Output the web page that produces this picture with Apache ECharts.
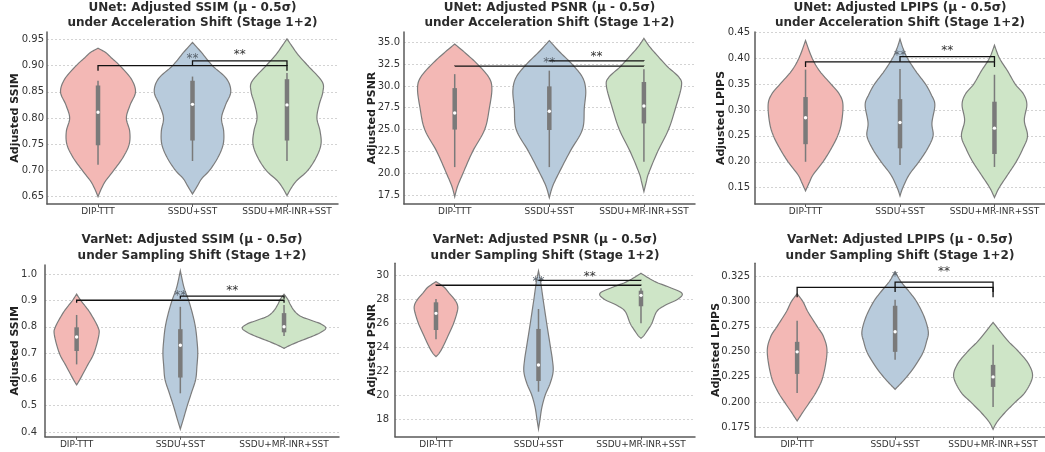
<!DOCTYPE html>
<html><head><meta charset="utf-8">
<script src="https://cdn.jsdelivr.net/npm/echarts@6/dist/echarts.min.js"></script>
<style>html,body{margin:0;padding:0;background:#fff}#c{width:1045px;height:452px}</style>
</head><body><div id="c"></div><script>
const CATEGORIES = ['DIP-TTT', 'SSDU+SST', 'SSDU+MR-INR+SST'];

// ---- Panel 1: UNet SSIM ----
const UNET_SSIM_TICKS = [0.65, 0.70, 0.75, 0.80, 0.85, 0.90, 0.95];
const UNET_SSIM_DIP = [[0.65,0],[0.665,0.035],[0.68,0.08],[0.70,0.166],[0.725,0.265],[0.75,0.33],[0.775,0.335],[0.80,0.30],[0.825,0.34],[0.85,0.397],[0.875,0.35],[0.90,0.23],[0.915,0.14],[0.925,0.08],[0.933,0]];
const UNET_SSIM_SSDU = [[0.655,0],[0.67,0.05],[0.685,0.1],[0.70,0.18],[0.725,0.27],[0.75,0.325],[0.775,0.33],[0.80,0.307],[0.825,0.35],[0.85,0.405],[0.875,0.36],[0.90,0.21],[0.925,0.095],[0.944,0]];
const UNET_SSIM_MRINR = [[0.652,0],[0.665,0.04],[0.68,0.1],[0.70,0.22],[0.725,0.31],[0.75,0.36],[0.775,0.35],[0.80,0.317],[0.825,0.34],[0.85,0.38],[0.87,0.37],[0.90,0.22],[0.92,0.12],[0.935,0.06],[0.951,0]];
const UNET_SSIM_BOXES = [[0.711,0.748,0.811,0.862,0.871],[0.718,0.757,0.826,0.871,0.879],[0.718,0.757,0.825,0.874,0.886]];
const UNET_SSIM_BRACKETS = [[0,2,0.900,0.01,'**',0.920],[1,2,0.909,0.01,'**',0.928]];

// ---- Panel 2: UNet PSNR ----
const UNET_PSNR_TICKS = [17.5, 20.0, 22.5, 25.0, 27.5, 30.0, 32.5, 35.0];
const UNET_PSNR_DIP = [[17.3,0],[18.5,0.03],[20,0.088],[22.5,0.19],[25,0.317],[27.5,0.367],[29.7,0.393],[31,0.36],[32.5,0.24],[33.75,0.115],[34.8,0]];
const UNET_PSNR_SSDU = [[17.2,0],[18.5,0.035],[20,0.1],[22.5,0.22],[25,0.35],[27.5,0.37],[29.5,0.385],[31,0.35],[32.5,0.24],[34,0.1],[35.2,0]];
const UNET_PSNR_MRINR = [[17.9,0],[19,0.025],[20,0.05],[22.5,0.146],[25,0.26],[27.5,0.335],[30,0.397],[31,0.37],[32.2,0.25],[33.5,0.14],[34.5,0.06],[35.45,0]];
const UNET_PSNR_BOXES = [[20.7,25.0,26.9,29.75,31.35],[20.7,24.95,27.1,29.95,31.75],[21.3,25.7,27.7,30.45,31.9]];
const UNET_PSNR_BRACKETS = [[0,2,32.28,0.01,'**',33.05],[1,2,32.86,0.01,'**',33.74]];

// ---- Panel 3: UNet LPIPS ----
const UNET_LPIPS_TICKS = [0.15, 0.20, 0.25, 0.30, 0.35, 0.40, 0.45];
const UNET_LPIPS_DIP = [[0.144,0],[0.16,0.04],[0.175,0.08],[0.20,0.185],[0.225,0.27],[0.25,0.34],[0.275,0.38],[0.31,0.396],[0.33,0.36],[0.35,0.27],[0.375,0.15],[0.40,0.07],[0.434,0]];
const UNET_LPIPS_SSDU = [[0.134,0],[0.15,0.03],[0.175,0.097],[0.20,0.2],[0.225,0.29],[0.25,0.35],[0.275,0.338],[0.31,0.369],[0.33,0.33],[0.35,0.27],[0.375,0.167],[0.40,0.079],[0.42,0.03],[0.437,0]];
const UNET_LPIPS_MRINR = [[0.131,0],[0.15,0.05],[0.175,0.14],[0.20,0.23],[0.225,0.3],[0.25,0.35],[0.28,0.316],[0.31,0.343],[0.33,0.31],[0.35,0.22],[0.375,0.14],[0.40,0.053],[0.425,0]];
const UNET_LPIPS_BOXES = [[0.200,0.234,0.285,0.325,0.378],[0.194,0.226,0.276,0.321,0.379],[0.190,0.215,0.265,0.316,0.368]];
const UNET_LPIPS_BRACKETS = [[0,2,0.393,0.01,'**',0.4126],[1,2,0.403,0.01,'**',0.4222]];

// ---- Panel 4: VarNet SSIM ----
const VARNET_SSIM_TICKS = [0.4, 0.5, 0.6, 0.7, 0.8, 0.9, 1.0];
const VARNET_SSIM_DIP = [[0.579,0],[0.60,0.032],[0.65,0.1],[0.70,0.167],[0.77,0.215],[0.80,0.204],[0.85,0.135],[0.88,0.08],[0.90,0.04],[0.924,0]];
const VARNET_SSIM_SSDU = [[0.411,0],[0.45,0.03],[0.50,0.067],[0.55,0.108],[0.60,0.148],[0.65,0.16],[0.70,0.168],[0.75,0.16],[0.80,0.145],[0.85,0.117],[0.90,0.08],[0.95,0.035],[1.013,0]];
const VARNET_SSIM_MRINR = [[0.718,0],[0.73,0.06],[0.745,0.15],[0.765,0.28],[0.78,0.36],[0.795,0.403],[0.81,0.36],[0.825,0.26],[0.84,0.16],[0.86,0.1],[0.885,0.06],[0.905,0.035],[0.924,0]];
const VARNET_SSIM_BOXES = [[0.657,0.708,0.761,0.798,0.845],[0.547,0.607,0.730,0.791,0.876],[0.765,0.779,0.800,0.852,0.883]];
const VARNET_SSIM_BRACKETS = [[0,2,0.901,0.01,'**',0.934],[1,2,0.917,0.01,'**',0.953]];

// ---- Panel 5: VarNet PSNR ----
const VARNET_PSNR_TICKS = [18, 20, 22, 24, 26, 28, 30];
const VARNET_PSNR_DIP = [[23.22,0],[23.5,0.03],[24,0.065],[25,0.12],[26,0.172],[27,0.208],[27.5,0.21],[28,0.18],[28.5,0.13],[29,0.08],[29.47,0]];
const VARNET_PSNR_SSDU = [[17.2,0],[18,0.015],[19,0.033],[20,0.065],[21,0.114],[22,0.143],[23,0.135],[24,0.117],[26,0.08],[28,0.045],[29.5,0.02],[30.36,0]];
const VARNET_PSNR_MRINR = [[24.75,0],[25,0.03],[25.5,0.07],[26,0.106],[27,0.155],[27.5,0.236],[28,0.358],[28.5,0.40],[29,0.276],[29.5,0.13],[30.17,0]];
const VARNET_PSNR_BOXES = [[24.67,25.44,26.83,27.75,28.03],[20.3,21.19,22.53,25.53,27.19],[26.0,27.42,28.33,28.72,28.92]];
const VARNET_PSNR_BRACKETS = [[0,2,29.17,0.01,'**',29.75],[1,2,29.58,0.01,'**',30.17]];

// ---- Panel 6: VarNet LPIPS ----
const VARNET_LPIPS_TICKS = [0.175, 0.200, 0.225, 0.250, 0.275, 0.300, 0.325];
const VARNET_LPIPS_DIP = [[0.181,0],[0.19,0.06],[0.20,0.13],[0.21,0.195],[0.225,0.263],[0.25,0.305],[0.265,0.27],[0.275,0.207],[0.29,0.11],[0.30,0.06],[0.308,0]];
const VARNET_LPIPS_SSDU = [[0.2126,0],[0.22,0.073],[0.23,0.16],[0.24,0.23],[0.25,0.288],[0.26,0.32],[0.27,0.339],[0.285,0.297],[0.30,0.22],[0.31,0.144],[0.32,0.06],[0.33,0]];
const VARNET_LPIPS_MRINR = [[0.1726,0],[0.18,0.04],[0.19,0.127],[0.20,0.229],[0.21,0.33],[0.225,0.402],[0.2375,0.365],[0.25,0.263],[0.26,0.161],[0.27,0.076],[0.2794,0]];
const VARNET_LPIPS_BOXES = [[0.209,0.228,0.250,0.260,0.281],[0.242,0.250,0.270,0.296,0.302],[0.195,0.215,0.225,0.237,0.257]];
const VARNET_LPIPS_BRACKETS = [[0,2,0.3144,0.01,'*',0.3284],[1,2,0.3197,0.01,'**',0.3334]];

const PANELS = [
  {title:'UNet: Adjusted SSIM (μ - 0.5σ)\nunder Acceleration Shift (Stage 1+2)', yName:'Adjusted SSIM', ticks:UNET_SSIM_TICKS, violins:[UNET_SSIM_DIP,UNET_SSIM_SSDU,UNET_SSIM_MRINR], boxes:UNET_SSIM_BOXES, brackets:UNET_SSIM_BRACKETS},
  {title:'UNet: Adjusted PSNR (μ - 0.5σ)\nunder Acceleration Shift (Stage 1+2)', yName:'Adjusted PSNR', ticks:UNET_PSNR_TICKS, violins:[UNET_PSNR_DIP,UNET_PSNR_SSDU,UNET_PSNR_MRINR], boxes:UNET_PSNR_BOXES, brackets:UNET_PSNR_BRACKETS},
  {title:'UNet: Adjusted LPIPS (μ - 0.5σ)\nunder Acceleration Shift (Stage 1+2)', yName:'Adjusted LPIPS', ticks:UNET_LPIPS_TICKS, violins:[UNET_LPIPS_DIP,UNET_LPIPS_SSDU,UNET_LPIPS_MRINR], boxes:UNET_LPIPS_BOXES, brackets:UNET_LPIPS_BRACKETS},
  {title:'VarNet: Adjusted SSIM (μ - 0.5σ)\nunder Sampling Shift (Stage 1+2)', yName:'Adjusted SSIM', ticks:VARNET_SSIM_TICKS, violins:[VARNET_SSIM_DIP,VARNET_SSIM_SSDU,VARNET_SSIM_MRINR], boxes:VARNET_SSIM_BOXES, brackets:VARNET_SSIM_BRACKETS},
  {title:'VarNet: Adjusted PSNR (μ - 0.5σ)\nunder Sampling Shift (Stage 1+2)', yName:'Adjusted PSNR', ticks:VARNET_PSNR_TICKS, violins:[VARNET_PSNR_DIP,VARNET_PSNR_SSDU,VARNET_PSNR_MRINR], boxes:VARNET_PSNR_BOXES, brackets:VARNET_PSNR_BRACKETS},
  {title:'VarNet: Adjusted LPIPS (μ - 0.5σ)\nunder Sampling Shift (Stage 1+2)', yName:'Adjusted LPIPS', ticks:VARNET_LPIPS_TICKS, violins:[VARNET_LPIPS_DIP,VARNET_LPIPS_SSDU,VARNET_LPIPS_MRINR], boxes:VARNET_LPIPS_BOXES, brackets:VARNET_LPIPS_BRACKETS}
];

// layout (pixels / axis extents)
const LAYOUT = [
  {l:47,  r:338,  t:32,    b:204,   xMin:-0.54,  xMax:2.54,  yMin:0.636, yMax:0.964, dec:2, gap:26.7, lm:3, tt:0,   cx:192.5},
  {l:404, r:695,  t:32,    b:204,   xMin:-0.536, xMax:2.54,  yMin:16.47, yMax:36.18, dec:1, gap:26.3, lm:4, tt:0,   cx:549.5},
  {l:755, r:1046, t:32,    b:204,   xMin:-0.535, xMax:2.535, yMin:0.1185,yMax:0.4506,dec:2, gap:28,   lm:5, tt:0,   cx:900},
  {l:45,  r:339,  t:265,   b:436.7, xMin:-0.305, xMax:2.53,  yMin:0.382, yMax:1.035, dec:1, gap:24.7, lm:8, tt:232.5, cx:192},
  {l:395, r:695,  t:263.3, b:436.7, xMin:-0.40,  xMax:2.527, yMin:16.55, yMax:31.0,  dec:0, gap:17.3, lm:6, tt:232.5, cx:545},
  {l:755, r:1046, t:263.3, b:436.7, xMin:-0.43,  xMax:2.53,  yMin:0.1653,yMax:0.3384,dec:3, gap:33,   lm:5, tt:232.5, cx:900}
];

const FONT = '"DejaVu Sans", sans-serif';
const FILLS = ['#f3b8b5', '#b8cbdc', '#cee5c7'];
const EDGE = '#7c7c7c';
const BOXC = '#7a7a7a';

function catmull(pts, n) {
  const out = [];
  for (let j = 0; j < pts.length - 1; j++) {
    const p0 = pts[Math.max(j-1,0)], p1 = pts[j], p2 = pts[j+1], p3 = pts[Math.min(j+2, pts.length-1)];
    for (let s = 0; s < n; s++) {
      const t = s / n, t2 = t*t, t3 = t2*t;
      const f = k => 0.5*((2*p1[k]) + (-p0[k]+p2[k])*t + (2*p0[k]-5*p1[k]+4*p2[k]-p3[k])*t2 + (-p0[k]+3*p1[k]-3*p2[k]+p3[k])*t3);
      out.push([Math.max(0, f(0)), f(1)]);
    }
  }
  out.push(pts[pts.length-1]);
  return out;
}

function violinRender(panel) {
  return function (params, api) {
    const i = params.dataIndex;
    const prof = panel.violins[i];
    const bx = panel.boxes[i];
    const curve = catmull(prof.map(p => [p[1], p[0]]), 8);
    const pts = [];
    curve.forEach(([w, v]) => pts.push(api.coord([i + w, v])));
    for (let k = curve.length - 2; k >= 1; k--) {
      const [w, v] = curve[k];
      pts.push(api.coord([i - w, v]));
    }
    const wl = api.coord([i, bx[0]]), q1 = api.coord([i, bx[1]]), md = api.coord([i, bx[2]]), q3 = api.coord([i, bx[3]]), wh = api.coord([i, bx[4]]);
    const bw = 4.5;
    return {type:'group', children:[
      {type:'polygon', shape:{points:pts}, style:{fill:FILLS[i], stroke:EDGE, lineWidth:1.2}},
      {type:'line', shape:{x1:wl[0], y1:wl[1], x2:wh[0], y2:wh[1]}, style:{stroke:BOXC, lineWidth:1.5}},
      {type:'rect', shape:{x:q3[0]-bw/2, y:q3[1], width:bw, height:q1[1]-q3[1]}, style:{fill:BOXC}},
      {type:'circle', shape:{cx:md[0], cy:md[1], r:1.7}, style:{fill:'#ffffff'}}
    ]};
  };
}

function bracketRender(panel) {
  return function (params, api) {
    const [x1, x2, y, drop, label, ly] = panel.brackets[params.dataIndex];
    const a = api.coord([x1, y - drop]), b = api.coord([x1, y]), c = api.coord([x2, y]), d = api.coord([x2, y - drop]);
    const mid = (x1 + x2) / 2;
    const t = api.coord([mid, ly]);
    const over = Math.abs(mid - Math.round(mid)) < 1e-6;
    return {type:'group', children:[
      {type:'polyline', shape:{points:[a,b,c,d]}, style:{stroke:'#111', lineWidth:1.3, fill:'none'}},
      {type:'text', x:t[0], y:t[1]+4, style:{text:label, fill: over ? '#58626c' : '#333', font:'12px ' + FONT, align:'center', verticalAlign:'middle'}}
    ]};
  };
}

const grid = [], xAxis = [], yAxis = [], series = [], graphic = [];
PANELS.forEach((p, k) => {
  const L = LAYOUT[k];
  grid.push({left:L.l, top:L.t, width:L.r - L.l, height:L.b - L.t, containLabel:false});
  xAxis.push({type:'value', gridIndex:k, min:L.xMin, max:L.xMax,
    axisLine:{show:true, onZero:false, lineStyle:{color:'#5a5a5a', width:1.5}},
    axisTick:{show:true, customValues:[0,1,2], length:3, lineStyle:{color:'#5a5a5a', width:1}},
    axisLabel:{customValues:[0,1,2], formatter:v => CATEGORIES[Math.round(v)], fontFamily:FONT, fontSize:9, color:'#333', margin:3},
    splitLine:{show:false}});
  yAxis.push({type:'value', gridIndex:k, min:L.yMin, max:L.yMax,
    name:p.yName, nameLocation:'middle', nameGap:L.gap, nameRotate:90, nameMoveOverlap:false,
    nameTextStyle:{fontFamily:FONT, fontWeight:'bold', fontSize:11, color:'#222'},
    axisLine:{show:true, onZero:false, lineStyle:{color:'#5a5a5a', width:1.5}},
    axisTick:{show:true, customValues:p.ticks, length:0},
    axisLabel:{customValues:p.ticks, formatter:v => v.toFixed(L.dec), fontFamily:FONT, fontSize:10, color:'#333', margin:L.lm},
    splitLine:{show:true, lineStyle:{color:'#c8c8c8', width:0.8, type:[2,2]}}});
  series.push({type:'custom', xAxisIndex:k, yAxisIndex:k, z:2, silent:true, clip:false,
    renderItem:violinRender(p), data:CATEGORIES.map((c, i) => [i, p.boxes[i][2]])});
  series.push({type:'custom', xAxisIndex:k, yAxisIndex:k, z:3, silent:true, clip:false,
    renderItem:bracketRender(p), data:p.brackets.map(b => [b[0], b[2]])});
  graphic.push({type:'text', x:L.cx, y:L.tt, style:{text:p.title, font:'bold 12px ' + FONT, fill:'#2b2b2b', align:'center', verticalAlign:'top', lineHeight:15.4}});
});

const chart = echarts.init(document.getElementById('c'), null, {renderer:'canvas'});
chart.setOption({animation:false, backgroundColor:'#fff', grid, xAxis, yAxis, series, graphic});
</script></body></html>
